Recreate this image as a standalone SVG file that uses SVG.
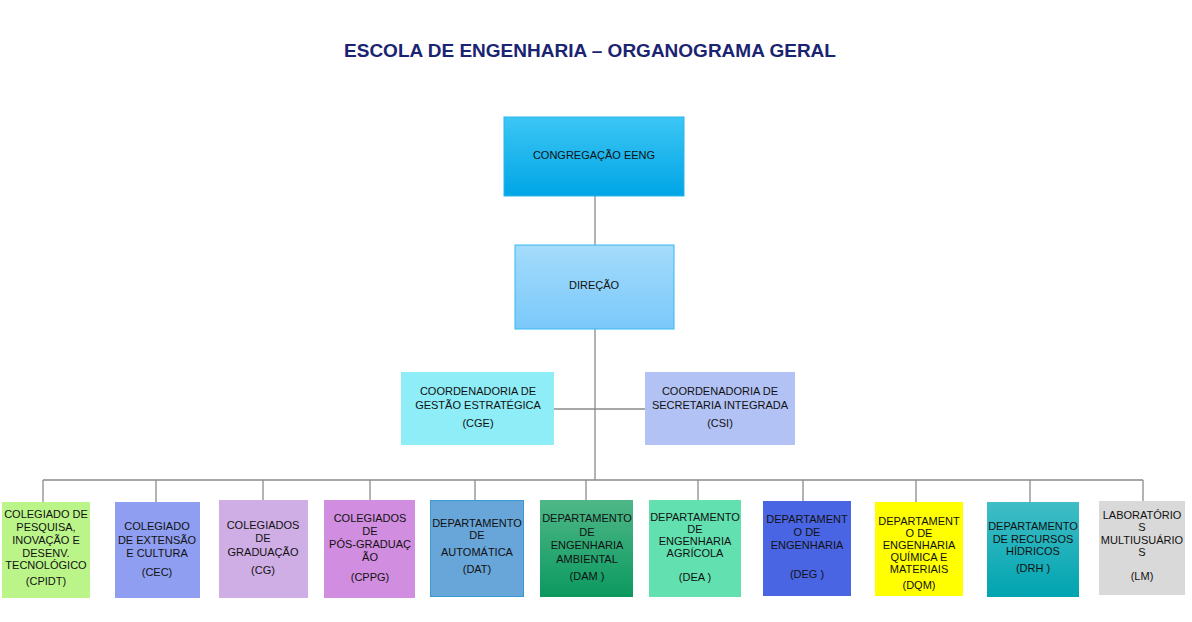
<svg xmlns="http://www.w3.org/2000/svg" width="1192" height="622" viewBox="0 0 1192 622">
<style>
text{font-family:"Liberation Sans",Arial,sans-serif;font-size:11px;fill:#111;text-anchor:middle}
.t{font-size:19px;font-weight:bold;fill:#1a2472}
.c line{stroke:#8a8a8a;stroke-width:1.3}
</style>
<defs>
<linearGradient id="g1" x1="0" y1="0" x2="0" y2="1"><stop offset="0" stop-color="#3cc6f4"/><stop offset="1" stop-color="#00a5e6"/></linearGradient>
<linearGradient id="g2" x1="0" y1="0" x2="0" y2="1"><stop offset="0" stop-color="#a4dbfb"/><stop offset="1" stop-color="#7ac9fb"/></linearGradient>
<linearGradient id="g3" x1="0" y1="0" x2="0" y2="1"><stop offset="0" stop-color="#4fb787"/><stop offset="1" stop-color="#0b9960"/></linearGradient>
<linearGradient id="g4" x1="0" y1="0" x2="0" y2="1"><stop offset="0" stop-color="#40bdc6"/><stop offset="1" stop-color="#00a4b0"/></linearGradient>
</defs>
<rect width="1192" height="622" fill="#fff"/>
<text class="t" x="590" y="57">ESCOLA DE ENGENHARIA – ORGANOGRAMA GERAL</text>
<g class="c">
<line x1="595" y1="196" x2="595" y2="245"/>
<line x1="595" y1="329" x2="595" y2="480"/>
<line x1="554" y1="409" x2="645" y2="409"/>
<line x1="43" y1="480" x2="1143" y2="480"/>
<line x1="43" y1="480" x2="43" y2="502"/>
<line x1="156" y1="480" x2="156" y2="502"/>
<line x1="263" y1="480" x2="263" y2="500"/>
<line x1="370" y1="480" x2="370" y2="500"/>
<line x1="475" y1="480" x2="475" y2="500"/>
<line x1="586" y1="480" x2="586" y2="500"/>
<line x1="698" y1="480" x2="698" y2="500"/>
<line x1="803" y1="480" x2="803" y2="501"/>
<line x1="916" y1="480" x2="916" y2="502"/>
<line x1="1030" y1="480" x2="1030" y2="502"/>
<line x1="1143" y1="480" x2="1143" y2="501"/>
</g>
<g id="congregacao"><rect x="504" y="117" width="180" height="79" fill="url(#g1)" stroke="#2ab4ee"/><text x="594" y="159">CONGREGAÇÃO EENG</text></g>
<g id="direcao"><rect x="515" y="245" width="159" height="84" fill="url(#g2)" stroke="#36b8ef"/><text x="594" y="289">DIREÇÃO</text></g>
<g id="cge"><rect x="401" y="372" width="153" height="73" fill="#8eedf6"/><text x="478" y="395">COORDENADORIA DE</text><text x="478" y="409">GESTÃO ESTRATÉGICA</text><text x="478" y="427">(CGE)</text></g>
<g id="csi"><rect x="645" y="372" width="150" height="73" fill="#b3c2f5"/><text x="720" y="395">COORDENADORIA DE</text><text x="720" y="409">SECRETARIA INTEGRADA</text><text x="720" y="427">(CSI)</text></g>
<g id="cpidt"><rect x="2" y="502" width="88" height="96" fill="#bbf58a"/><text x="46" y="518">COLEGIADO DE</text><text x="46" y="531">PESQUISA,</text><text x="46" y="544">INOVAÇÃO E</text><text x="46" y="557">DESENV.</text><text x="46" y="569">TECNOLÓGICO</text><text x="46" y="585">(CPIDT)</text></g>
<g id="cec"><rect x="115" y="502" width="85" height="96" fill="#8f9ef0"/><text x="157" y="530">COLEGIADO</text><text x="157" y="544">DE EXTENSÃO</text><text x="157" y="557">E CULTURA</text><text x="157" y="576">(CEC)</text></g>
<g id="cg"><rect x="219" y="500" width="89" height="98" fill="#cfaee6"/><text x="263" y="529">COLEGIADOS</text><text x="263" y="542">DE</text><text x="263" y="556">GRADUAÇÃO</text><text x="263" y="574">(CG)</text></g>
<g id="cppg"><rect x="324" y="500" width="91" height="98" fill="#d18ddf"/><text x="370" y="522">COLEGIADOS</text><text x="370" y="535">DE</text><text x="370" y="548">PÓS-GRADUAÇ</text><text x="370" y="561">ÃO</text><text x="370" y="581">(CPPG)</text></g>
<g id="dat"><rect x="430.5" y="500.5" width="93" height="96" fill="#68a5d8" stroke="#3a9ad0"/><text x="477" y="527">DEPARTAMENTO</text><text x="477" y="539">DE</text><text x="477" y="556">AUTOMÁTICA</text><text x="477" y="573">(DAT)</text></g>
<g id="dam"><rect x="540" y="500" width="93" height="97" fill="url(#g3)"/><text x="587" y="522">DEPARTAMENTO</text><text x="587" y="536">DE</text><text x="587" y="549">ENGENHARIA</text><text x="587" y="563">AMBIENTAL</text><text x="587" y="580">(DAM )</text></g>
<g id="dea"><rect x="649" y="500" width="92" height="97" fill="#62e0b0"/><text x="695" y="521">DEPARTAMENTO</text><text x="695" y="533">DE</text><text x="695" y="545">ENGENHARIA</text><text x="695" y="557">AGRÍCOLA</text><text x="695" y="581">(DEA )</text></g>
<g id="deg"><rect x="763" y="501" width="88" height="95" fill="#4a65e3"/><text x="807" y="523">DEPARTAMENT</text><text x="807" y="536">O DE</text><text x="807" y="549">ENGENHARIA</text><text x="807" y="578">(DEG )</text></g>
<g id="dqm"><rect x="875" y="502" width="88" height="94" fill="#ffff00"/><text x="919" y="525">DEPARTAMENT</text><text x="919" y="537">O DE</text><text x="919" y="549">ENGENHARIA</text><text x="919" y="561">QUÍMICA E</text><text x="919" y="573">MATERIAIS</text><text x="919" y="589">(DQM)</text></g>
<g id="drh"><rect x="987" y="502" width="92" height="95" fill="url(#g4)"/><text x="1033" y="530">DEPARTAMENTO</text><text x="1033" y="555" dy="-12">DE RECURSOS</text><text x="1033" y="555">HÍDRICOS</text><text x="1033" y="572">(DRH )</text></g>
<g id="lm"><rect x="1099" y="501" width="86" height="94" fill="#d9d9d9"/><text x="1142" y="519">LABORATÓRIO</text><text x="1142" y="531">S</text><text x="1142" y="544">MULTIUSUÁRIO</text><text x="1142" y="556">S</text><text x="1142" y="580">(LM)</text></g>
</svg>
